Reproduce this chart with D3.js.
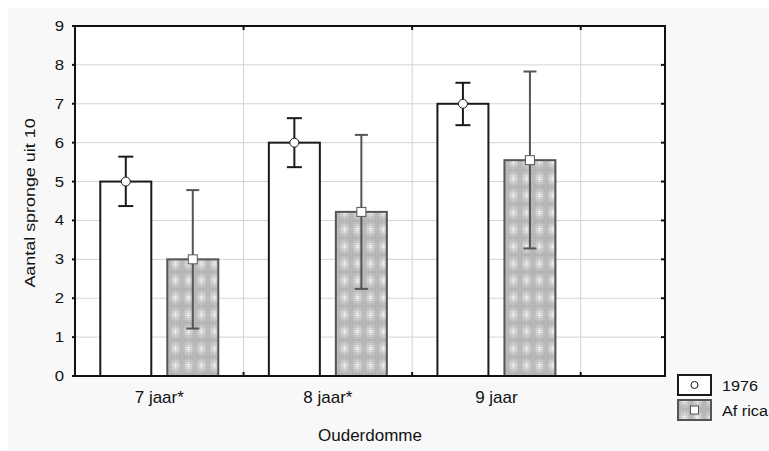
<!DOCTYPE html>
<html>
<head>
<meta charset="utf-8">
<script src="https://cdn.jsdelivr.net/npm/d3@7"></script>
<style>
  body { margin: 0; background: #fff; }
  svg { display: block; font-family: "Liberation Sans", Arial, sans-serif; }
</style>
</head>
<body>
<div id="chart"></div>
<script>
// Data
const categories = ['7 jaar*', '8 jaar*', '9 jaar'];
const seriesNames = ['1976', 'Af rica'];
const means1976 = [5.0, 6.0, 7.0];
const upper1976 = [5.64, 6.63, 7.54];
const lower1976 = [4.37, 5.37, 6.45];
const meansAfrica = [3.0, 4.22, 5.55];
const upperAfrica = [4.78, 6.2, 7.83];
const lowerAfrica = [1.22, 2.24, 3.28];
const yTicks = [0, 1, 2, 3, 4, 5, 6, 7, 8, 9];

const W = 769, H = 451;
const m = { left: 75, top: 26, right: 665, bottom: 376 };

const svg = d3.select('#chart').append('svg')
  .attr('width', W).attr('height', H);

// Panel background
svg.append('rect')
  .attr('x', 8).attr('y', 8).attr('width', W - 8).attr('height', H - 8)
  .attr('fill', '#f8f8f8');

// Texture for the Africa bars
const defs = svg.append('defs');
const rg = defs.append('radialGradient').attr('id', 'spot');
rg.append('stop').attr('offset', '0%').attr('stop-color', '#f6f6f6');
rg.append('stop').attr('offset', '50%').attr('stop-color', '#d0d0d0');
rg.append('stop').attr('offset', '100%').attr('stop-color', '#b8b8b8');
const pat = defs.append('pattern').attr('id', 'tex')
  .attr('patternUnits', 'userSpaceOnUse')
  .attr('width', 13).attr('height', 17);
pat.append('rect').attr('width', 13).attr('height', 17).attr('fill', 'url(#spot)');
[2, 5, 8, 11].forEach(px => {
  pat.append('line')
    .attr('x1', px).attr('x2', px).attr('y1', 0).attr('y2', 17)
    .attr('stroke', '#a0a0a0').attr('stroke-width', 0.6)
    .attr('stroke-dasharray', '1,1');
});

// Scales
const x = d3.scaleLinear().domain([-0.5, 3]).range([m.left, m.right]);
const y = d3.scaleLinear().domain([0, 9]).range([m.bottom, m.top]);
const barW = 51, off = 33.5;

const plot = svg.append('g');
plot.append('rect')
  .attr('x', m.left).attr('y', m.top)
  .attr('width', m.right - m.left).attr('height', m.bottom - m.top)
  .attr('fill', '#fff');

// Grid
plot.selectAll('.hg').data(yTicks.slice(1, -1)).enter().append('line')
  .attr('x1', m.left).attr('x2', m.right)
  .attr('y1', d => y(d)).attr('y2', d => y(d))
  .attr('stroke', '#d4d4d4').attr('stroke-width', 1);
const vGrid = [0.5, 1.5, 2.5];
plot.selectAll('.vg').data(vGrid).enter().append('line')
  .attr('x1', d => x(d)).attr('x2', d => x(d))
  .attr('y1', m.top).attr('y2', m.bottom)
  .attr('stroke', '#d4d4d4').attr('stroke-width', 1);

// Bars
const rows = categories.map((c, i) => ({
  i, c,
  a: { v: means1976[i], hi: upper1976[i], lo: lower1976[i] },
  b: { v: meansAfrica[i], hi: upperAfrica[i], lo: lowerAfrica[i] }
}));

plot.selectAll('.bar76').data(rows).enter().append('rect')
  .attr('x', d => x(d.i) - off - barW / 2)
  .attr('y', d => y(d.a.v))
  .attr('width', barW).attr('height', d => y(0) - y(d.a.v))
  .attr('fill', '#fff').attr('stroke', '#1a1a1a').attr('stroke-width', 2);

plot.selectAll('.barAf').data(rows).enter().append('rect')
  .attr('x', d => x(d.i) + off - barW / 2)
  .attr('y', d => y(d.b.v))
  .attr('width', barW).attr('height', d => y(0) - y(d.b.v))
  .attr('fill', 'url(#tex)').attr('stroke', '#555').attr('stroke-width', 2);

// Error bars
function errorBars(key, dx, color, cap) {
  const g = plot.append('g').attr('stroke', color).attr('stroke-width', 2);
  rows.forEach(d => {
    const cx = x(d.i) + dx, s = d[key];
    g.append('line').attr('x1', cx).attr('x2', cx).attr('y1', y(s.hi)).attr('y2', y(s.lo));
    g.append('line').attr('x1', cx - cap / 2).attr('x2', cx + cap / 2).attr('y1', y(s.hi)).attr('y2', y(s.hi));
    g.append('line').attr('x1', cx - cap / 2).attr('x2', cx + cap / 2).attr('y1', y(s.lo)).attr('y2', y(s.lo));
  });
}
errorBars('a', -off, '#1a1a1a', 15);
errorBars('b', off, '#555', 13);

// Markers
plot.selectAll('.m76').data(rows).enter().append('circle')
  .attr('cx', d => x(d.i) - off).attr('cy', d => y(d.a.v)).attr('r', 4.5)
  .attr('fill', '#fff').attr('stroke', '#1a1a1a').attr('stroke-width', 1);
plot.selectAll('.mAf').data(rows).enter().append('rect')
  .attr('x', d => x(d.i) + off - 4.5).attr('y', d => y(d.b.v) - 4.5)
  .attr('width', 9).attr('height', 9)
  .attr('fill', '#fff').attr('stroke', '#555').attr('stroke-width', 1);

// Frame
plot.append('rect')
  .attr('x', m.left).attr('y', m.top)
  .attr('width', m.right - m.left).attr('height', m.bottom - m.top)
  .attr('fill', 'none').attr('stroke', '#111').attr('stroke-width', 2);

// Ticks
const tk = plot.append('g').attr('stroke', '#111').attr('stroke-width', 2);
yTicks.forEach(t => {
  tk.append('line').attr('x1', m.left - 3).attr('x2', m.left).attr('y1', y(t)).attr('y2', y(t));
  tk.append('line').attr('x1', m.right - 4).attr('x2', m.right).attr('y1', y(t)).attr('y2', y(t));
});
vGrid.forEach(t => {
  tk.append('line').attr('x1', x(t)).attr('x2', x(t)).attr('y1', m.bottom).attr('y2', m.bottom - 4);
  tk.append('line').attr('x1', x(t)).attr('x2', x(t)).attr('y1', m.top).attr('y2', m.top + 4);
});

// Y tick labels (the original glyphs are a bit wide)
svg.selectAll('.yl').data(yTicks).enter().append('text')
  .attr('transform', d => `translate(${m.left - 11}, ${y(d) + 5}) scale(1.2, 1)`)
  .attr('text-anchor', 'end').attr('font-size', 14).attr('fill', '#111')
  .text(d => d);

// X tick labels
svg.selectAll('.xl').data(categories).enter().append('text')
  .attr('x', (d, i) => x(i)).attr('y', 403)
  .attr('text-anchor', 'middle').attr('font-size', 17).attr('fill', '#111')
  .text(d => d);

// Axis titles
svg.append('text')
  .attr('x', (m.left + m.right) / 2).attr('y', 441)
  .attr('text-anchor', 'middle').attr('font-size', 17).attr('fill', '#111')
  .text('Ouderdomme');
svg.append('text')
  .attr('transform', `translate(35, ${(m.top + m.bottom) / 2 + 2}) rotate(-90) scale(1.28, 1)`)
  .attr('text-anchor', 'middle').attr('font-size', 14).attr('fill', '#111')
  .text('Aantal spronge uit 10');

// Legend
const lg = svg.append('g').attr('transform', 'translate(678, 375)');
lg.append('rect').attr('x', 0).attr('y', 0).attr('width', 33).attr('height', 20)
  .attr('fill', '#fff').attr('stroke', '#1a1a1a').attr('stroke-width', 2);
lg.append('circle').attr('cx', 16.5).attr('cy', 10).attr('r', 3.5)
  .attr('fill', '#fff').attr('stroke', '#1a1a1a').attr('stroke-width', 1);
lg.append('rect').attr('x', 0).attr('y', 25).attr('width', 33).attr('height', 20)
  .attr('fill', 'url(#tex)').attr('stroke', '#555').attr('stroke-width', 2);
lg.append('rect').attr('x', 12.5).attr('y', 31).attr('width', 8).attr('height', 8)
  .attr('fill', '#fff').attr('stroke', '#555').attr('stroke-width', 1);
lg.selectAll('.lt').data(seriesNames).enter().append('text')
  .attr('transform', (d, i) => `translate(44, ${16 + i * 25}) scale(1.16, 1)`)
  .attr('font-size', 14).attr('fill', '#111')
  .text(d => d);
</script>
</body>
</html>
